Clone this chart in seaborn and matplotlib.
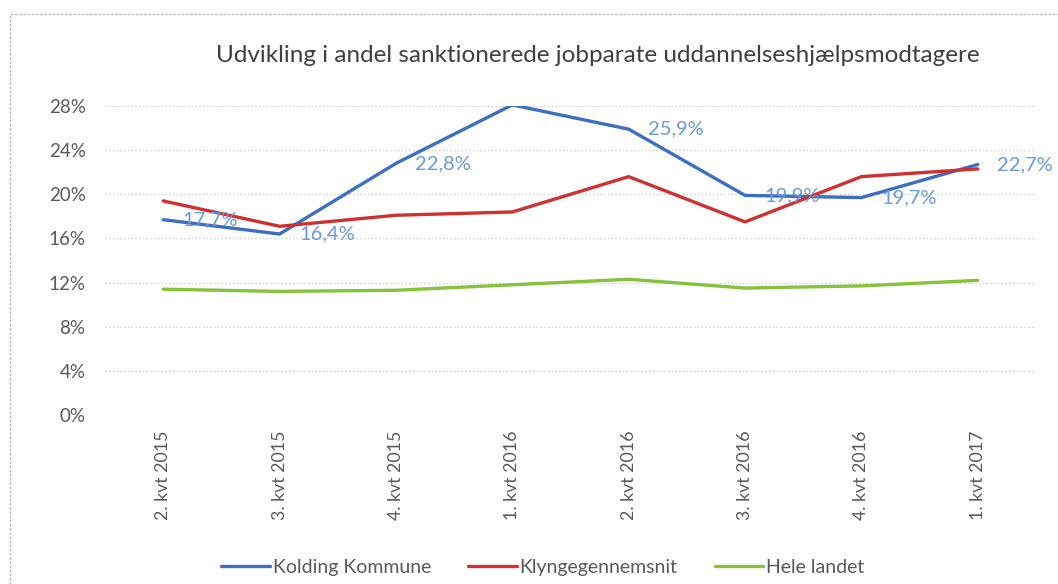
import matplotlib
matplotlib.use("Agg")
import matplotlib.pyplot as plt
import seaborn as sns
import pandas as pd
from matplotlib.patches import Rectangle

categories = ["2. kvt 2015", "3. kvt 2015", "4. kvt 2015", "1. kvt 2016",
              "2. kvt 2016", "3. kvt 2016", "4. kvt 2016", "1. kvt 2017"]
kolding = [17.7, 16.4, 22.8, 28.1, 25.9, 19.9, 19.7, 22.7]
klynge = [19.4, 17.1, 18.1, 18.4, 21.6, 17.5, 21.6, 22.3]
hele = [11.4, 11.2, 11.3, 11.8, 12.3, 11.5, 11.7, 12.2]
series_names = ["Kolding Kommune", "Klyngegennemsnit", "Hele landet"]
colors = ["#3b6fc2", "#cf3030", "#86c23a"]
yticks = [0, 4, 8, 12, 16, 20, 24, 28]

sns.set_style("white")
plt.rcParams['font.family'] = ['Lato', 'DejaVu Sans']

rows = []
for name, vals in zip(series_names, [kolding, klynge, hele]):
    for i, (c, v) in enumerate(zip(categories, vals)):
        rows.append({"idx": i, "kvt": c, "serie": name, "val": v})
df = pd.DataFrame(rows)

fig = plt.figure(figsize=(10.58, 5.84), dpi=100)
ax = fig.add_axes([105/1058, 1-415/584, (1036-105)/1058, (415-106)/584])

sns.lineplot(data=df, x="idx", y="val", hue="serie", hue_order=series_names,
             palette=colors, linewidth=2.4, ax=ax, legend=True, sort=False)

ax.set_xlim(-0.5, 7.5)
ax.set_ylim(0, 28)
ax.set_yticks(yticks)
ax.set_yticklabels([f"{t}%" for t in yticks])
ax.set_xticks(range(len(categories)))
ax.set_xticklabels(categories, rotation=90, va="top", ha="center")
ax.tick_params(axis="y", length=0, pad=14, labelsize=13.5, labelcolor="#595959")
ax.tick_params(axis="x", length=0, pad=11, labelsize=12.8, labelcolor="#595959")
ax.set_xlabel("")
ax.set_ylabel("")
for t in yticks:
    ax.axhline(t, color="#c8c8c8", linestyle=(0, (1, 2)), linewidth=0.9, zorder=0)
for s in ax.spines.values():
    s.set_visible(False)

for i, v in enumerate(kolding):
    ax.annotate(f"{v:.1f}%".replace(".", ","), (i, v), xytext=(14, 0),
                textcoords="offset points", ha="left", va="center",
                color="#6a9ad8", fontsize=14.5)

handles, labels = ax.get_legend_handles_labels()
ax.get_legend().remove()
fig.legend(handles, labels, loc="center", bbox_to_anchor=(0.513, 0.029), ncol=3,
           frameon=False, fontsize=14, handlelength=2.5, handletextpad=0.15,
           columnspacing=1.9, labelcolor="#595959")

fig.text(0.565, 1-55/584, "Udvikling i andel sanktionerede jobparate uddannelseshjælpsmodtagere",
         ha="center", va="center", fontsize=17.5, color="#404040")

fig.patches.append(Rectangle((10/1058, -0.1), 1.2, 1.1-14/584, transform=fig.transFigure,
                             fill=False, edgecolor="#bdbdbd", linestyle=(0, (2, 1)),
                             linewidth=1.0))

fig.savefig("out.png", dpi=100)
